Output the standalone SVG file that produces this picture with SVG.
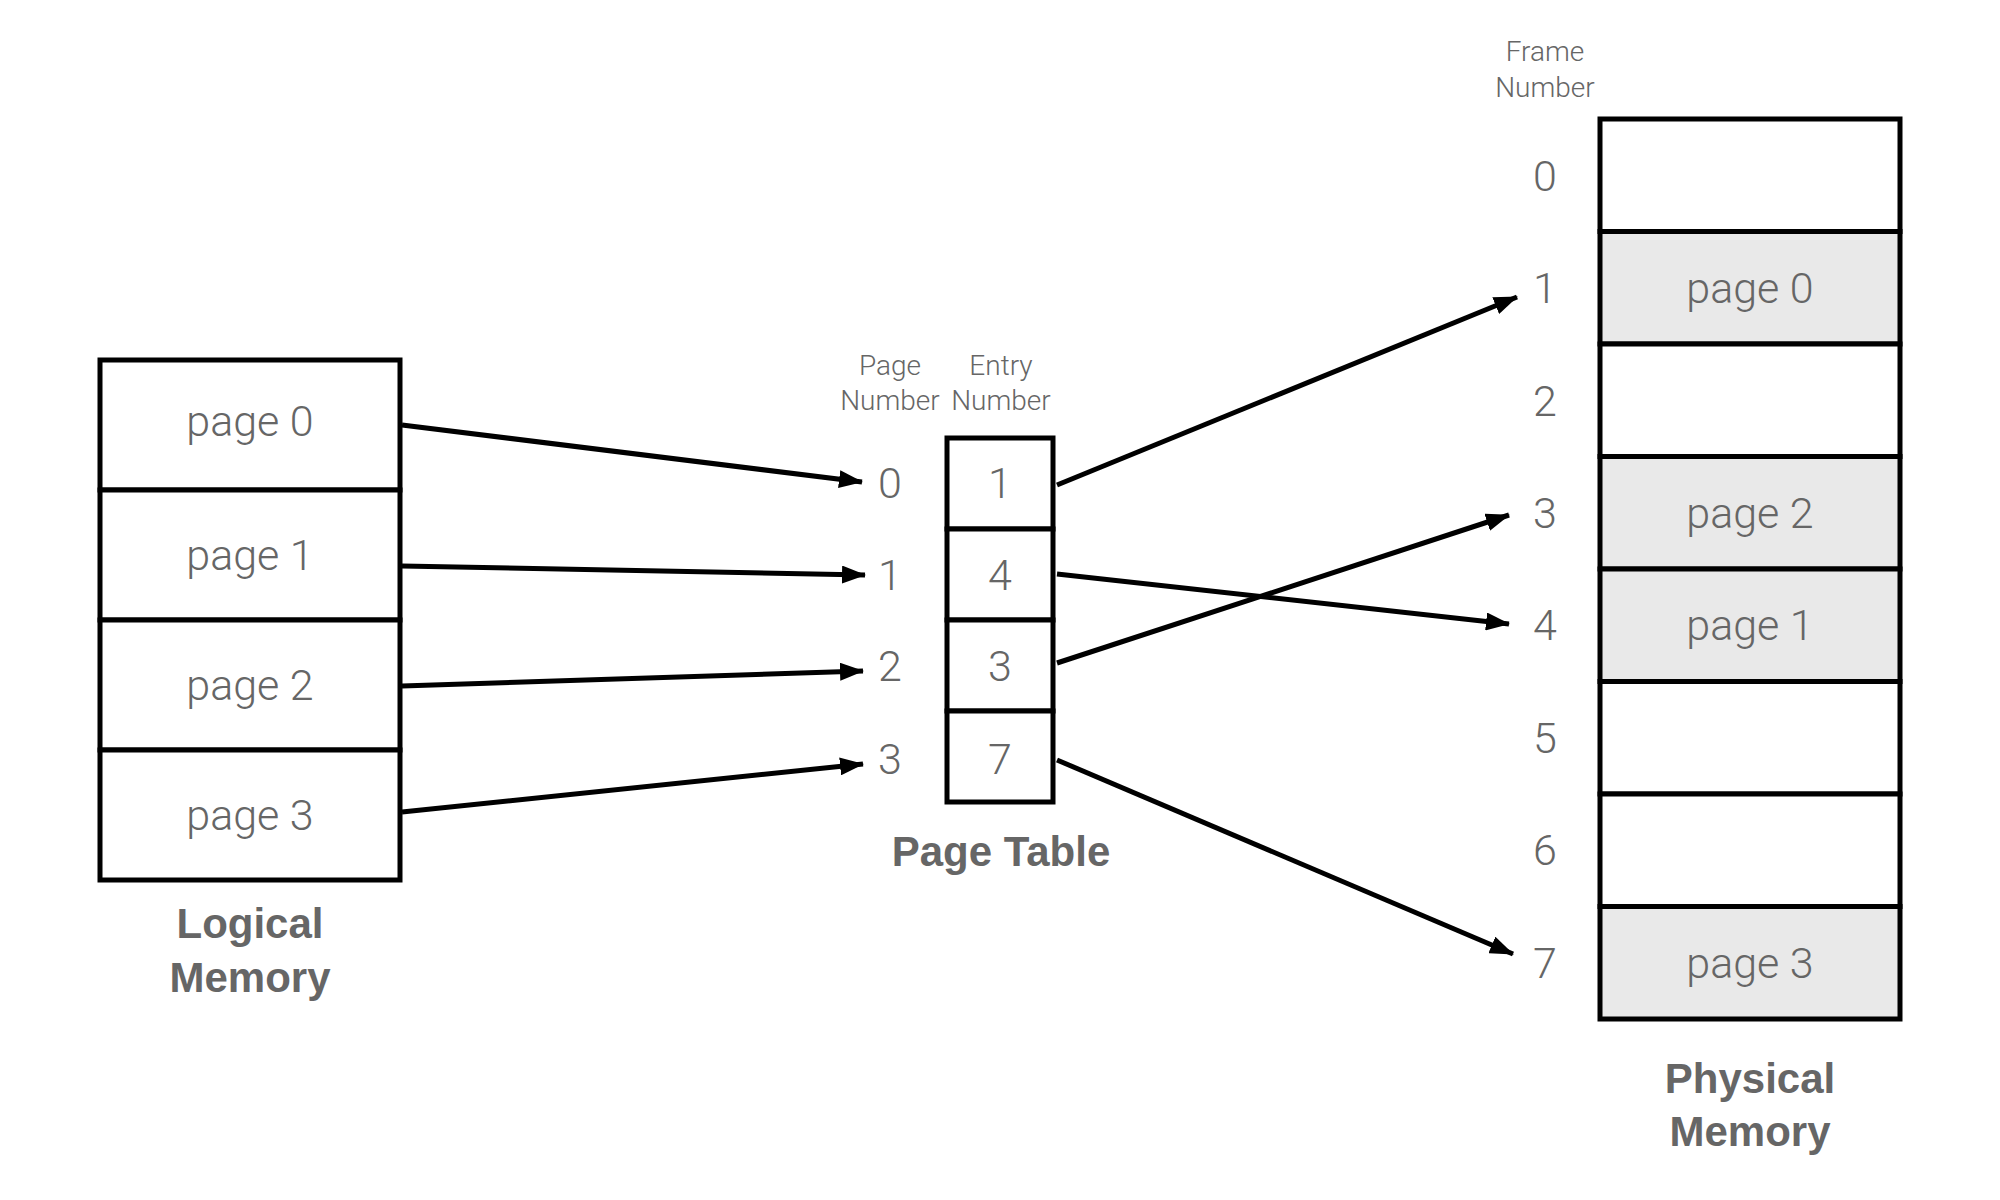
<svg xmlns="http://www.w3.org/2000/svg" width="2000" height="1200" viewBox="0 0 2000 1200">
<style>
.box{fill:#fff;stroke:#000;stroke-width:5}
.shade{fill:#e9e9e9;stroke:#000;stroke-width:5}
.t{font-family:Roboto,"Liberation Sans",sans-serif;font-weight:300;fill:#666;text-anchor:middle}
.big{font-size:43px}
.num{font-size:43px}
.small{font-size:28px}
.lbl{font-family:"Liberation Sans",Arial,sans-serif;font-weight:bold;font-size:42px;fill:#666;text-anchor:middle}
.arr{stroke:#000;stroke-width:5;fill:none;marker-end:url(#ah)}
</style>
<defs>
<marker id="ah" markerUnits="userSpaceOnUse" markerWidth="24" markerHeight="18" refX="23" refY="9" orient="auto">
<path d="M0,0 L24,9 L0,18 z" fill="#000"/>
</marker>
</defs>
<rect width="2000" height="1200" fill="#fff"/>

<g id="logical-memory">
<rect class="box" x="100" y="360" width="300" height="130"/>
<rect class="box" x="100" y="490" width="300" height="130"/>
<rect class="box" x="100" y="620" width="300" height="130"/>
<rect class="box" x="100" y="750" width="300" height="130"/>
<text class="t big" x="250" y="436">page 0</text>
<text class="t big" x="250" y="570">page 1</text>
<text class="t big" x="250" y="700">page 2</text>
<text class="t big" x="250" y="830">page 3</text>
<text class="lbl" x="250" y="938">Logical</text>
<text class="lbl" x="250" y="992">Memory</text>
</g>

<g id="page-table">
<text class="t small" x="890" y="375">Page</text>
<text class="t small" x="890" y="410">Number</text>
<text class="t small" x="1001" y="375">Entry</text>
<text class="t small" x="1001" y="410">Number</text>
<rect class="box" x="947" y="438" width="106" height="91"/>
<rect class="box" x="947" y="529" width="106" height="91"/>
<rect class="box" x="947" y="620" width="106" height="91"/>
<rect class="box" x="947" y="711" width="106" height="91"/>
<text class="t num" x="1000" y="498">1</text>
<text class="t num" x="1000" y="590">4</text>
<text class="t num" x="1000" y="681">3</text>
<text class="t num" x="1000" y="774">7</text>
<text class="t num" x="890" y="498">0</text>
<text class="t num" x="890" y="590">1</text>
<text class="t num" x="890" y="681">2</text>
<text class="t num" x="890" y="774">3</text>
<text class="lbl" x="1001" y="866">Page Table</text>
</g>

<g id="physical-memory">
<text class="t small" x="1545" y="61">Frame</text>
<text class="t small" x="1545" y="97">Number</text>
<rect class="box" x="1600" y="119" width="300" height="112.5"/>
<rect class="shade" x="1600" y="231.5" width="300" height="112.5"/>
<rect class="box" x="1600" y="344" width="300" height="112.5"/>
<rect class="shade" x="1600" y="456.5" width="300" height="112.5"/>
<rect class="shade" x="1600" y="569" width="300" height="112.5"/>
<rect class="box" x="1600" y="681.5" width="300" height="112.5"/>
<rect class="box" x="1600" y="794" width="300" height="112.5"/>
<rect class="shade" x="1600" y="906.5" width="300" height="112.5"/>
<text class="t big" x="1750" y="303">page 0</text>
<text class="t big" x="1750" y="528">page 2</text>
<text class="t big" x="1750" y="640">page 1</text>
<text class="t big" x="1750" y="978">page 3</text>
<text class="t num" x="1545" y="191">0</text>
<text class="t num" x="1545" y="303">1</text>
<text class="t num" x="1545" y="416">2</text>
<text class="t num" x="1545" y="528">3</text>
<text class="t num" x="1545" y="640">4</text>
<text class="t num" x="1545" y="753">5</text>
<text class="t num" x="1545" y="865">6</text>
<text class="t num" x="1545" y="978">7</text>
<text class="lbl" x="1750" y="1093">Physical</text>
<text class="lbl" x="1750" y="1146">Memory</text>
</g>

<g id="connectors">
<line class="arr" x1="402" y1="425" x2="862" y2="482"/>
<line class="arr" x1="402" y1="566" x2="865" y2="575"/>
<line class="arr" x1="402" y1="686" x2="863" y2="671"/>
<line class="arr" x1="402" y1="812" x2="863" y2="764"/>
<line class="arr" x1="1057" y1="485" x2="1517" y2="297"/>
<line class="arr" x1="1057" y1="574" x2="1509" y2="624"/>
<line class="arr" x1="1057" y1="663" x2="1509" y2="515"/>
<line class="arr" x1="1057" y1="760" x2="1513" y2="954"/>
</g>
</svg>
